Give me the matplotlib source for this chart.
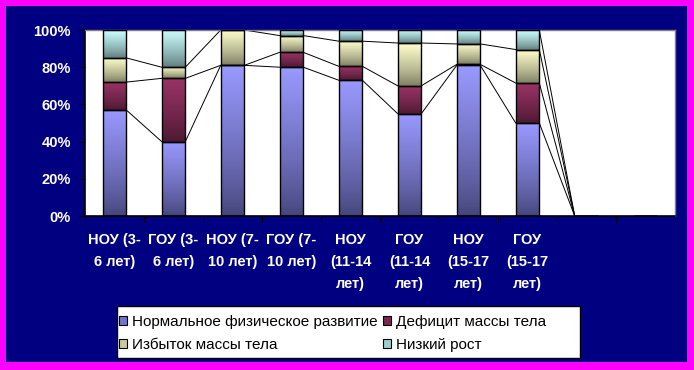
import numpy as np
import matplotlib
matplotlib.use("Agg")
import matplotlib.pyplot as plt
from matplotlib.patches import Rectangle, Patch
from matplotlib.ticker import FuncFormatter, FixedLocator

# categories (the last two are empty in the source chart)
categories = ["НОУ (3-\n6 лет)", "ГОУ (3-\n6 лет)", "НОУ (7-\n10 лет)", "ГОУ (7-\n10 лет)",
              "НОУ\n(11-14\nлет)", "ГОУ\n(11-14\nлет)", "НОУ\n(15-17\nлет)", "ГОУ\n(15-17\nлет)",
              "", ""]
series_names = ["Нормальное физическое развитие", "Дефицит массы тела",
                "Избыток массы тела", "Низкий рост"]
normal = [57, 40, 81, 80, 73, 55, 81, 50, 0, 0]
deficit = [15, 34, 0, 8, 7.5, 15, 0.5, 21.5, 0, 0]
excess = [13, 6, 19, 9, 13.5, 23, 11, 18, 0, 0]
low = [15, 20, 0, 3, 6, 7, 7.5, 10.5, 0, 0]

# gradient colours: (top, bottom)
grad = [("#9999FF", "#45457a"),
        ("#993366", "#4a1830"),
        ("#FFFFCC", "#7c7c62"),
        ("#CCFFFF", "#5e7a7a")]
legend_cols = ["#7474c8", "#7a2650", "#c8c8a0", "#9cd0d0"]


def to_rgb(h):
    return np.array(matplotlib.colors.to_rgb(h))


W, H = 694, 370
fig = plt.figure(figsize=(W / 100, H / 100), dpi=100, facecolor="#FF00FF")
fig.patches.append(Rectangle((6 / W, 8 / H), 681 / W, 356 / H, transform=fig.transFigure,
                             facecolor="#000080", edgecolor="none", zorder=-10))

ax = fig.add_axes([85 / W, (H - 216) / H, 590 / W, 186 / H])
ax.set_zorder(1)
ax.set_facecolor("white")

data = np.array([normal, deficit, excess, low], dtype=float)
x = np.arange(len(categories))
width = 0.4
bottoms = np.zeros(len(categories))
cum = []
for k in range(4):
    bars = ax.bar(x, data[k], width, bottom=bottoms, facecolor="none",
                  edgecolor="black", linewidth=1.0, zorder=3)
    top_c, bot_c = to_rgb(grad[k][0]), to_rgb(grad[k][1])
    # lighter for the upper part, darkening towards the bottom
    t = np.linspace(0, 1, 64)[:, None, None] ** 0.8
    img = bot_c + (top_c - bot_c) * t
    for b in bars:
        if b.get_height() <= 0:
            continue
        ax.imshow(img, origin="lower", aspect="auto", interpolation="bilinear",
                  extent=[b.get_x(), b.get_x() + b.get_width(), b.get_y(), b.get_y() + b.get_height()],
                  zorder=2)
    bottoms = bottoms + data[k]
    cum.append(bottoms.copy())

# series lines between neighbouring bars
n_real = 9
for level in cum:
    for i in range(n_real - 1):
        ax.plot([x[i] + width / 2, x[i + 1] - width / 2], [level[i], level[i + 1]],
                color="black", linewidth=0.7, zorder=2)

ax.set_xlim(-0.5, len(categories) - 0.5)
ax.set_ylim(0, 100)

for s in ["left", "bottom"]:
    ax.spines[s].set_color("black")
    ax.spines[s].set_linewidth(1.2)
for s in ["top", "right"]:
    ax.spines[s].set_color("#808080")
    ax.spines[s].set_linewidth(1.0)

ax.set_yticks(np.arange(0, 101, 20))
ax.yaxis.set_major_formatter(FuncFormatter(lambda v, p: f"{int(v)}%"))
ax.tick_params(axis="y", colors="black", length=4, direction="out", pad=6,
               labelcolor="white", labelsize=10.5)
for lbl in ax.get_yticklabels():
    lbl.set_fontfamily("Liberation Sans")
    lbl.set_fontweight("bold")

ax.xaxis.set_major_locator(FixedLocator(np.arange(-0.5, len(categories), 1.0)))
ax.xaxis.set_major_formatter(FuncFormatter(lambda v, p: ""))
ax.xaxis.set_minor_locator(FixedLocator(x))
ax.set_xticklabels(categories, minor=True)
ax.tick_params(axis="x", which="major", colors="black", length=4, direction="out")
ax.tick_params(axis="x", which="minor", length=0, pad=12, labelcolor="white", labelsize=10.5)
for lbl in ax.get_xticklabels(minor=True):
    lbl.set_fontfamily("Liberation Sans")
    lbl.set_fontweight("bold")
    lbl.set_linespacing(1.72)
    lbl.set_verticalalignment("top")

# legend box
fig.patches.append(Rectangle((117 / W, (H - 358) / H), 463 / W, 52 / H, transform=fig.transFigure,
                             facecolor="white", edgecolor="black", linewidth=1.0, zorder=2))
handles = [Patch(facecolor=c, edgecolor="black", linewidth=0.8) for c in legend_cols]
order = [0, 2, 1, 3]
leg = fig.legend([handles[i] for i in order], [series_names[i] for i in order],
                 loc="upper left", bbox_to_anchor=(119 / W, 1 - 315 / H), ncol=2,
                 frameon=False, handlelength=0.55, handleheight=0.55, handletextpad=0.3,
                 columnspacing=0.35, borderpad=0, borderaxespad=0, labelspacing=0.6,
                 prop={"family": "Liberation Sans", "size": 11})
leg.set_zorder(5)

fig.savefig("out.png", dpi=100, facecolor=fig.get_facecolor())
